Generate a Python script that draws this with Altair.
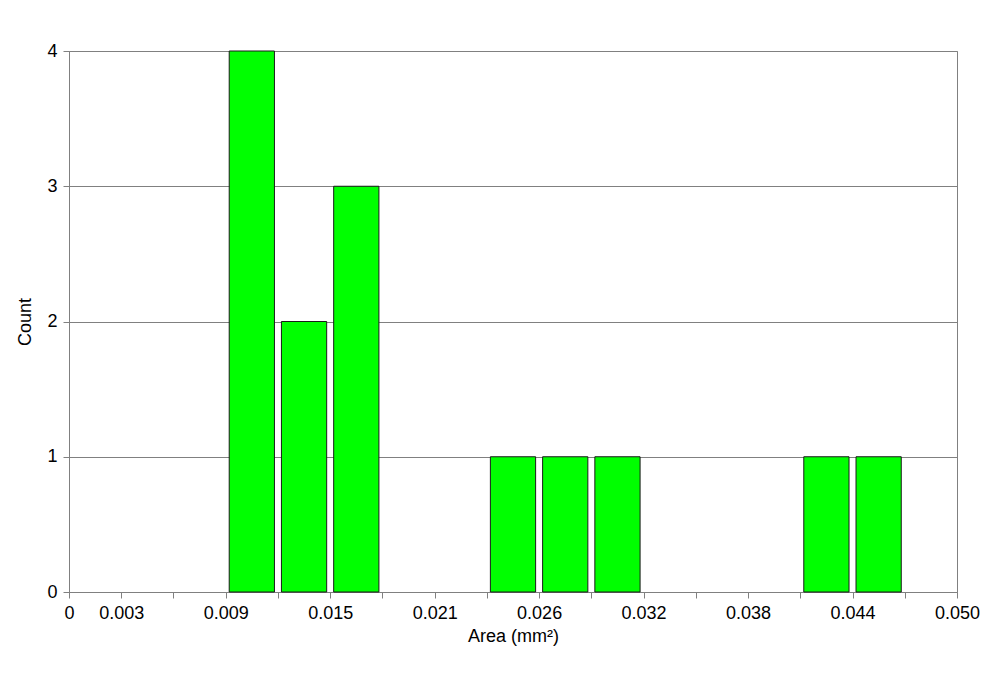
import json
import altair as alt
import pandas as pd

# Histogram data: 17 equal bins spanning 0 .. 0.050 mm²
x_max = 0.050
n_bins = 17
bin_index = [3, 4, 5, 8, 9, 10, 14, 15]
counts = [4, 2, 3, 1, 1, 1, 1, 1]
tick_labels = ["0", "0.003", "", "0.009", "", "0.015", "", "0.021", "",
               "0.026", "", "0.032", "", "0.038", "", "0.044", "", "0.050"]
y_ticks = [0, 1, 2, 3, 4]

w = x_max / n_bins
df = pd.DataFrame({
    "x0": [i * w for i in bin_index],
    "x1": [(i + 1) * w for i in bin_index],
    "count": counts,
    "base": [0] * len(counts),
})
tick_values = [k * w for k in range(n_bins + 1)]
label_expr = f"{json.dumps(tick_labels)}[round(datum.value / {w})]"

FONT = "Liberation Sans"
GRAY = "#808080"

bars = alt.Chart(df).mark_bar(
    color="#00FF00", stroke="#1a1a1a", strokeWidth=1, xOffset=3.5, x2Offset=-3.5
).encode(
    x=alt.X("x0:Q", scale=alt.Scale(domain=[0, x_max], nice=False, zero=True),
            axis=alt.Axis(values=tick_values, labelExpr=label_expr, grid=False,
                          title="Area (mm²)", tickSize=6, labelPadding=6,
                          titlePadding=5, labelFlush=False, labelOverlap=False)),
    x2="x1:Q",
    y=alt.Y("count:Q", scale=alt.Scale(domain=[0, 4], nice=False),
            axis=alt.Axis(values=y_ticks, format="d", grid=True, title="Count",
                          tickSize=6, labelPadding=6, titlePadding=12)),
    y2="base:Q",
)

chart = bars.properties(
    width=888, height=541,
    autosize=alt.AutoSizeParams(type="none"),
    padding={"left": 61, "top": 43, "right": 35, "bottom": 90},
).configure_view(
    stroke=GRAY, strokeWidth=1
).configure_axis(
    domainColor=GRAY, tickColor=GRAY, gridColor=GRAY, gridWidth=1,
    labelFont=FONT, titleFont=FONT, labelFontSize=18, titleFontSize=18,
    labelColor="#000000", titleColor="#000000", titleFontWeight="normal",
)

chart.save("out.html", embed_options={"renderer": "svg", "actions": False})
